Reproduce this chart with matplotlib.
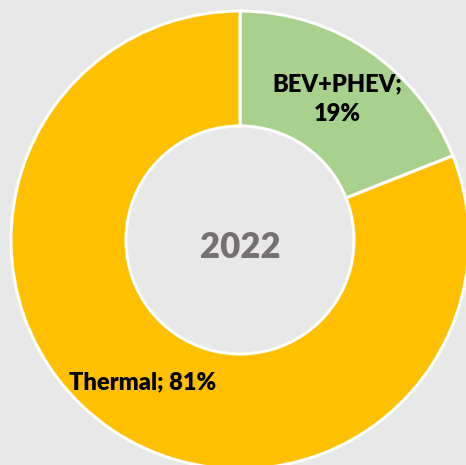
import matplotlib.pyplot as plt

categories = ["BEV+PHEV", "Thermal"]
shares = [19, 81]
colors = ["#A9D18E", "#FFC000"]
year_label = "2022"

W, H = 466, 465
fig = plt.figure(figsize=(W / 100, H / 100), dpi=100, facecolor="#E8E8E8")
ax = fig.add_axes([0, 0, 1, 1])
ax.set_facecolor("#E8E8E8")

cx, cy = 240, H - 240
r_out, r_in = 229, 114

ax.pie(shares, colors=colors, startangle=90, counterclock=False,
       radius=r_out, center=(cx, cy), frame=True,
       wedgeprops=dict(width=r_out - r_in, edgecolor="white", linewidth=2.2))
ax.set_xlim(0, W)
ax.set_ylim(0, H)
ax.set_aspect("equal")
ax.axis("off")

font = ["Lato", "DejaVu Sans"]
ax.text(337, H - 99, f"{categories[0]};\n{shares[0]}%", ha="center", va="center",
        fontsize=17, fontweight="heavy", family=font, linespacing=1.45)
ax.text(143, H - 382, f"{categories[1]}; {shares[1]}%", ha="center", va="center",
        fontsize=17, fontweight="heavy", family=font)
ax.text(cx, H - 247, year_label, ha="center", va="center",
        fontsize=25, fontweight="heavy", color="#767171", family=font)

fig.savefig("out.png", dpi=100, facecolor=fig.get_facecolor())
